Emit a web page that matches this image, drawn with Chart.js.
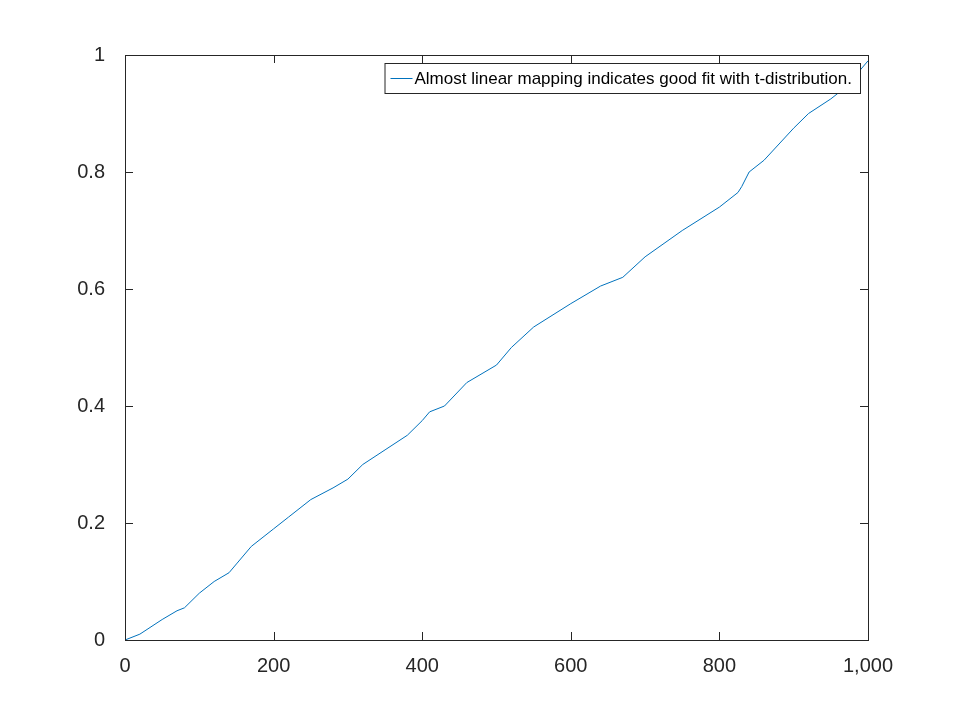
<!DOCTYPE html>
<html><head><meta charset="utf-8">
<script src="https://cdn.jsdelivr.net/npm/chart.js@4/dist/chart.umd.min.js"></script>
<style>html,body{margin:0;background:#fff}#w{width:960px;height:720px}</style>
</head><body><div id="w"><canvas id="c"></canvas></div>
<script>
const xs = [0,20,50,70,80,100,120,140,150,170,200,220,250,280,300,320,350,380,400,410,430,460,500,520,550,600,640,670,700,750,800,825,830,840,860,900,920,950,970,1000];
const ys = [0,0.01,0.035,0.05,0.055,0.08,0.1,0.115,0.13,0.16,0.19,0.21,0.24,0.26,0.275,0.3,0.325,0.35,0.375,0.39,0.4,0.44,0.47,0.5,0.535,0.575,0.605,0.62,0.655,0.70,0.74,0.765,0.775,0.80,0.82,0.875,0.90,0.925,0.945,0.99];
const xTicks = [0,200,400,600,800,1000];
const yTicks = [0,0.2,0.4,0.6,0.8,1];
const legendText = 'Almost linear mapping indicates good fit with t-distribution.';
const pts = xs.map((x,i)=>({x:x,y:ys[i]}));
const frame = {id:'frame', afterDraw(ch){
  const c=ch.ctx,a=ch.chartArea,sx=ch.scales.x,sy=ch.scales.y;
  c.save();c.strokeStyle='#262626';c.lineWidth=1;
  c.strokeRect(a.left+0.5,a.top+0.5,a.right-a.left,a.bottom-a.top);
  c.beginPath();
  xTicks.forEach(v=>{const p=Math.round(sx.getPixelForValue(v))+0.5;c.moveTo(p,a.bottom);c.lineTo(p,a.bottom-8);c.moveTo(p,a.top);c.lineTo(p,a.top+8);});
  yTicks.forEach(v=>{const p=Math.round(sy.getPixelForValue(v))+0.5;c.moveTo(a.left,p);c.lineTo(a.left+8,p);c.moveTo(a.right,p);c.lineTo(a.right-8,p);});
  c.stroke();
  // legend
  c.font='17px "Liberation Sans", Arial';
  const tw=c.measureText(legendText).width;
  const bw=tw+38, bh=30, bx=a.right-8-bw, by=a.top+8;
  c.fillStyle='#fff';c.fillRect(bx,by,bw,bh);
  c.strokeRect(bx+0.5,by+0.5,bw,bh);
  c.strokeStyle='#0072bd';c.beginPath();c.moveTo(bx+6,by+bh/2+0.5);c.lineTo(bx+28,by+bh/2+0.5);c.stroke();
  c.fillStyle='#000';c.textBaseline='middle';c.fillText(legendText,bx+30,by+bh/2+1);
  c.restore();
}};
new Chart(document.getElementById('c'),{type:'line',
 data:{datasets:[{data:pts,borderColor:'#0072bd',borderWidth:1,pointRadius:0,tension:0}]},
 options:{responsive:true,maintainAspectRatio:false,animation:false,
  layout:{padding:{top:55,right:92,left:0,bottom:0}},
  plugins:{legend:{display:false},tooltip:{enabled:false}},
  scales:{
   x:{type:'linear',min:0,max:1000,grid:{display:false},border:{display:false},
      afterBuildTicks:s=>{s.ticks=xTicks.map(v=>({value:v}))},
      afterFit:s=>{s.height=80},
      ticks:{color:'#262626',font:{size:20,family:'Liberation Sans'},padding:6,maxRotation:0}},
   y:{min:0,max:1,grid:{display:false},border:{display:false},
      afterBuildTicks:s=>{s.ticks=yTicks.map(v=>({value:v}))},
      afterFit:s=>{s.width=125},
      ticks:{color:'#262626',font:{size:20,family:'Liberation Sans'},padding:12,callback:v=>String(v)}}
  }},
 plugins:[frame]});
</script></body></html>
